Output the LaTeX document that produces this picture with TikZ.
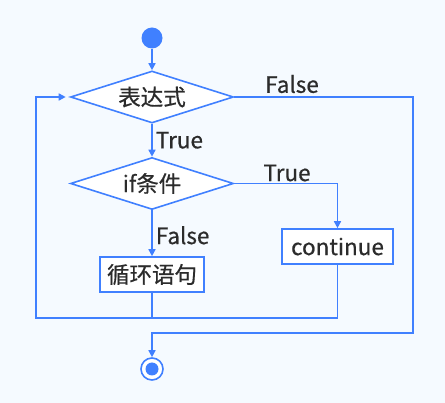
\documentclass[tikz,border=0pt]{standalone}
\usepackage{fontspec}
\setmainfont{Noto Sans CJK SC}
\newfontfamily\lblfont{Noto Sans CJK SC}[FakeBold=0.6]
\usetikzlibrary{shapes.geometric,arrows.meta}
\definecolor{flowblue}{HTML}{4080FF}
\definecolor{bgblue}{HTML}{F5FAFF}
\definecolor{txt}{HTML}{2B2B2B}
\tikzset{
  lbl/.style={font=\lblfont\fontsize{22.5}{26}\selectfont, text=txt, inner sep=0pt},
  decision/.style={diamond, shape aspect=3.13, draw=flowblue, line width=1.6pt, fill=white, minimum width=163pt, minimum height=52pt, inner sep=0pt, font=\lblfont\fontsize{22.5}{26}\selectfont, text=txt},
  stepbox/.style={rectangle, draw=flowblue, line width=1.6pt, fill=white, inner sep=0pt, font=\lblfont\fontsize{22.5}{26}\selectfont, text=txt},
  conn/.style={draw=flowblue, line width=1.6pt},
  arr/.style={conn, -{Triangle[length=7pt,width=7pt]}},
}
\begin{document}
\begin{tikzpicture}[x=1pt,y=-1pt]
\fill[bgblue] (0,0) rectangle (445,403);
\useasboundingbox (0,0) rectangle (445,403);
\node[circle, fill=flowblue, minimum size=21pt, inner sep=0pt] (start) at (152,38) {};
\node[decision] (d1) at (152,97) {表达式};
\node[decision] (d2) at (152,183.5) {if条件};
\node[stepbox, minimum width=104pt, minimum height=35pt] (body) at (152,274.5) {循环语句};
\node[stepbox, minimum width=111pt, minimum height=35pt] (cont) at (337.5,246.5) {continue};
\node[circle, draw=flowblue, line width=1.6pt, fill=white, minimum size=22pt, inner sep=0pt,
  path picture={\fill[flowblue] (path picture bounding box.center) circle (6.5pt);}] (end) at (152,369) {};
\coordinate (fr) at (413,333);
\coordinate (jn) at (152,318);
\coordinate (lc) at (36,318);
\draw[arr] (start) -- (d1.north);
\draw[arr] (d1.south) -- node[lbl, anchor=west, xshift=3pt] {True} (d2.north);
\draw[arr] (d1.east) -| (fr) -| (end.north);
\node[lbl] at (292,84) {False};
\draw[arr] (d2.east) -| (cont.north);
\node[lbl] at (287,173) {True};
\draw[arr] (d2.south) -- node[lbl, anchor=west, xshift=3pt, yshift=-2pt] {False} (body.north);
\draw[arr, shorten >=4pt] (body.south) -- (jn) -- (lc) |- (d1.west);
\draw[conn] (cont.south) |- (jn);
\end{tikzpicture}
\end{document}
